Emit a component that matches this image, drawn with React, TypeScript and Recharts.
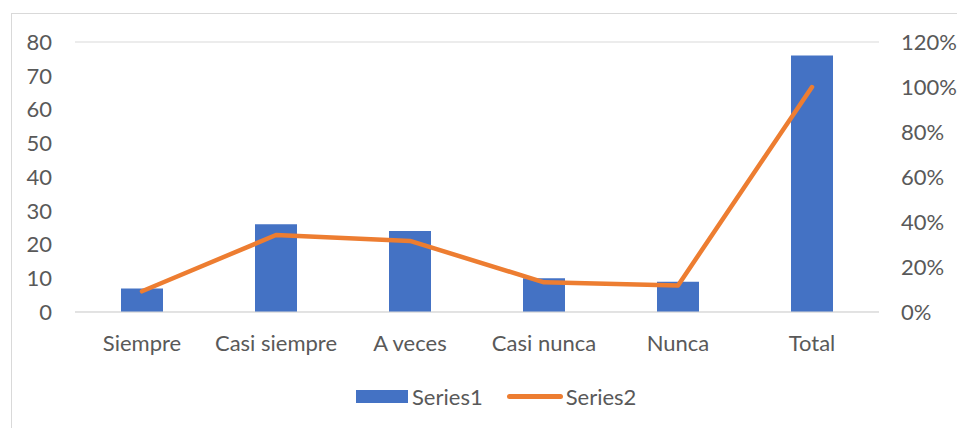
import React from "react";
import { Bar, ComposedChart, CartesianGrid, Line, XAxis, YAxis } from "recharts";

const categories = ["Siempre", "Casi siempre", "A veces", "Casi nunca", "Nunca", "Total"];
const series1 = [7, 26, 24, 10, 9, 76];
const series2 = [9.2, 34.2, 31.6, 13.2, 11.8, 100];
const leftTicks = [0, 10, 20, 30, 40, 50, 60, 70, 80];
const rightTicks = [0, 20, 40, 60, 80, 100, 120];
const seriesNames = ["Series1", "Series2"];

const BLUE = "#4472C4";
const ORANGE = "#ED7D31";
const TEXT = "#595959";
const FONT = "Lato, 'Open Sans', sans-serif";

const data = categories.map((name, i) => ({
  name,
  Series1: series1[i],
  Series2: series2[i],
}));

const tickStyle = { fontSize: 22, fill: TEXT, fontFamily: FONT };

const ChartLegend = () => (
  <div
    style={{
      position: "absolute",
      left: 356,
      top: 383,
      display: "flex",
      alignItems: "center",
      fontFamily: FONT,
      fontSize: 22,
      color: TEXT,
      whiteSpace: "nowrap",
    }}
  >
    <span style={{ display: "inline-block", width: 52, height: 13, background: BLUE, marginRight: 4 }} />
    <span style={{ marginRight: 24 }}>{seriesNames[0]}</span>
    <span
      style={{ display: "inline-block", width: 56, height: 5, borderRadius: 3, background: ORANGE, marginRight: 3 }}
    />
    <span>{seriesNames[1]}</span>
  </div>
);

const App: React.FC = () => {
  return (
    <div style={{ position: "absolute", left: 0, top: 0, width: 957, height: 428, background: "#fff", overflow: "hidden" }}>
      <div
        style={{
          position: "absolute",
          left: 11,
          top: 13,
          width: 960,
          height: 440,
          border: "1px solid #d9d9d9",
          boxSizing: "border-box",
        }}
      />
      <div style={{ position: "absolute", left: 0, top: 0 }}>
        <ComposedChart
          width={957}
          height={428}
          data={data}
          margin={{ top: 42, right: 0, left: 0, bottom: 76 }}
        >
          <CartesianGrid vertical={false} stroke="#d9d9d9" strokeWidth={1} />
          <XAxis
            dataKey="name"
            tick={tickStyle}
            tickLine={false}
            axisLine={{ stroke: "#d9d9d9" }}
            tickSize={0}
            tickMargin={23}
            interval={0}
            height={40}
          />
          <YAxis
            yAxisId="left"
            domain={[0, 80]}
            ticks={leftTicks}
            tick={tickStyle}
            tickLine={false}
            axisLine={false}
            tickSize={0}
            tickMargin={23}
            width={75}
          />
          <YAxis
            yAxisId="right"
            orientation="right"
            domain={[0, 120]}
            ticks={rightTicks}
            tick={{ ...tickStyle, textAnchor: "start" }}
            tickFormatter={(v) => `${v}%`}
            tickLine={false}
            axisLine={false}
            tickSize={0}
            tickMargin={22}
            width={78}
          />
          <Bar yAxisId="left" dataKey="Series1" fill={BLUE} isAnimationActive={false} barSize={42} />
          <Line
            yAxisId="right"
            type="linear"
            dataKey="Series2"
            stroke={ORANGE}
            strokeWidth={4.5}
            strokeLinecap="round"
            strokeLinejoin="round"
            dot={false}
            activeDot={false}
            isAnimationActive={false}
          />
        </ComposedChart>
      </div>
      <ChartLegend />
    </div>
  );
};

export default App;
